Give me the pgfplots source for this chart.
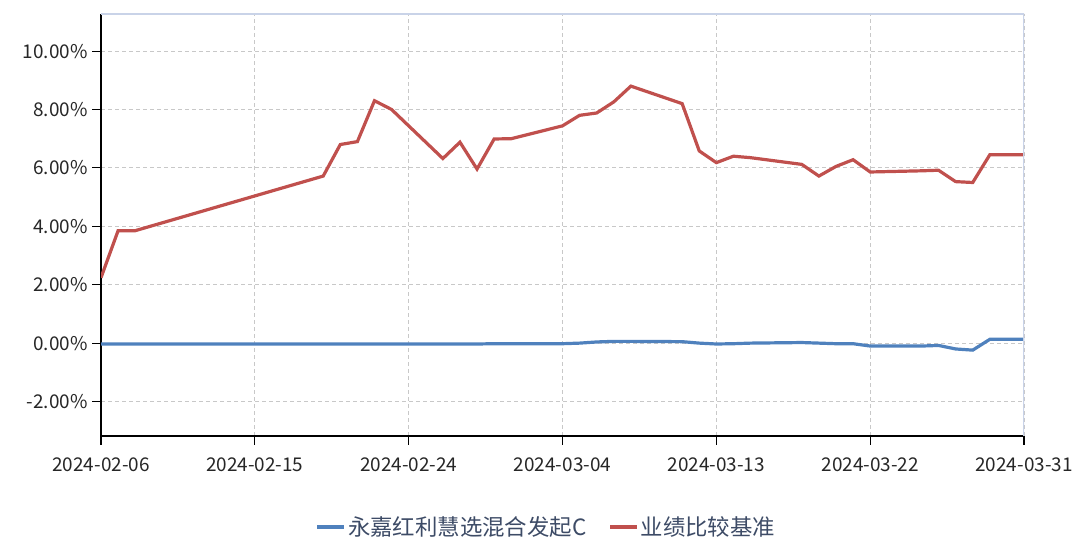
\documentclass[border=0pt]{standalone}
\usepackage{fontspec}
\setmainfont{Noto Sans CJK SC}
\usepackage{pgfplots}
\pgfplotsset{compat=1.18}
\definecolor{bred}{HTML}{C0504D}
\definecolor{bblue}{HTML}{4F81BD}
\definecolor{gridc}{HTML}{C8C8C8}
\definecolor{framec}{HTML}{C9D3E8}
\definecolor{legc}{HTML}{3D4B66}
\begin{document}
\begin{tikzpicture}[x=1bp,y=1bp]
\useasboundingbox (0,0) rectangle (1082,541);
\begin{axis}[
  at={(101bp,105bp)}, anchor=south west,
  scale only axis, width=923bp, height=422bp,
  xmin=0, xmax=54, ymin=-3.18, ymax=11.27,
  axis lines=left, axis line style={-, black, line width=1.3bp},
  xtick={0,9,18,27,36,45,54},
  xticklabels={2024-02-06,2024-02-15,2024-02-24,2024-03-04,2024-03-13,2024-03-22,2024-03-31},
  ytick={-2,0,2,4,6,8,10},
  yticklabel={\pgfmathprintnumber[fixed,fixed zerofill,precision=2]{\tick}\%},
  /pgf/number format/assume math mode=true,
  tick align=outside, major tick length=9bp,
  tick style={black, line width=1.1bp},
  grid=major, grid style={gridc, line width=0.8bp, dash pattern=on 4bp off 3bp},
  ticklabel style={font=\fontsize{19}{21}\selectfont, text=black!85},
  xticklabel style={yshift=-9bp},
  yticklabel style={xshift=-1bp},
  legend columns=2,
  legend style={draw=none, fill=none, at={(0.4827,-0.2156)}, anchor=center, font=\fontsize{22.5}{25}\selectfont, text=legc, /tikz/every even column/.append style={column sep=20bp}},
  legend image code/.code={\draw[#1, line width=3.2bp] (0bp,0bp) -- (27bp,0bp);},
]
\addplot[bblue, line width=3.2bp] coordinates {
(0,-0.03)(1,-0.03)(2,-0.03)(13,-0.03)(14,-0.03)(15,-0.03)(16,-0.03)(17,-0.03)
(20,-0.03)(21,-0.03)(22,-0.03)(23,-0.02)(24,-0.02)(27,-0.02)(28,0.0)(29,0.04)
(30,0.06)(31,0.06)(34,0.05)(35,0.0)(36,-0.03)(37,-0.02)(38,0.0)(41,0.02)
(42,0.0)(43,-0.02)(44,-0.02)(45,-0.10)(48,-0.10)(49,-0.08)(50,-0.20)(51,-0.24)
(52,0.13)(54,0.13)};
\addlegendentry{永嘉红利慧选混合发起C}
\addplot[bred, line width=3.2bp] coordinates {
(0,2.24)(1,3.85)(2,3.85)(13,5.72)(14,6.80)(15,6.90)(16,8.30)(17,8.00)
(20,6.32)(21,6.88)(22,5.96)(23,6.99)(24,7.00)(27,7.44)(28,7.80)(29,7.88)
(30,8.26)(31,8.80)(34,8.20)(35,6.58)(36,6.18)(37,6.40)(38,6.35)(41,6.12)
(42,5.72)(43,6.05)(44,6.28)(45,5.86)(48,5.90)(49,5.92)(50,5.53)(51,5.50)
(52,6.45)(54,6.45)};
\addlegendentry{业绩比较基准}
\draw[framec, line width=2bp] (rel axis cs:0,1) -- (rel axis cs:1,1) -- (rel axis cs:1,0);
\end{axis}
\end{tikzpicture}
\end{document}
